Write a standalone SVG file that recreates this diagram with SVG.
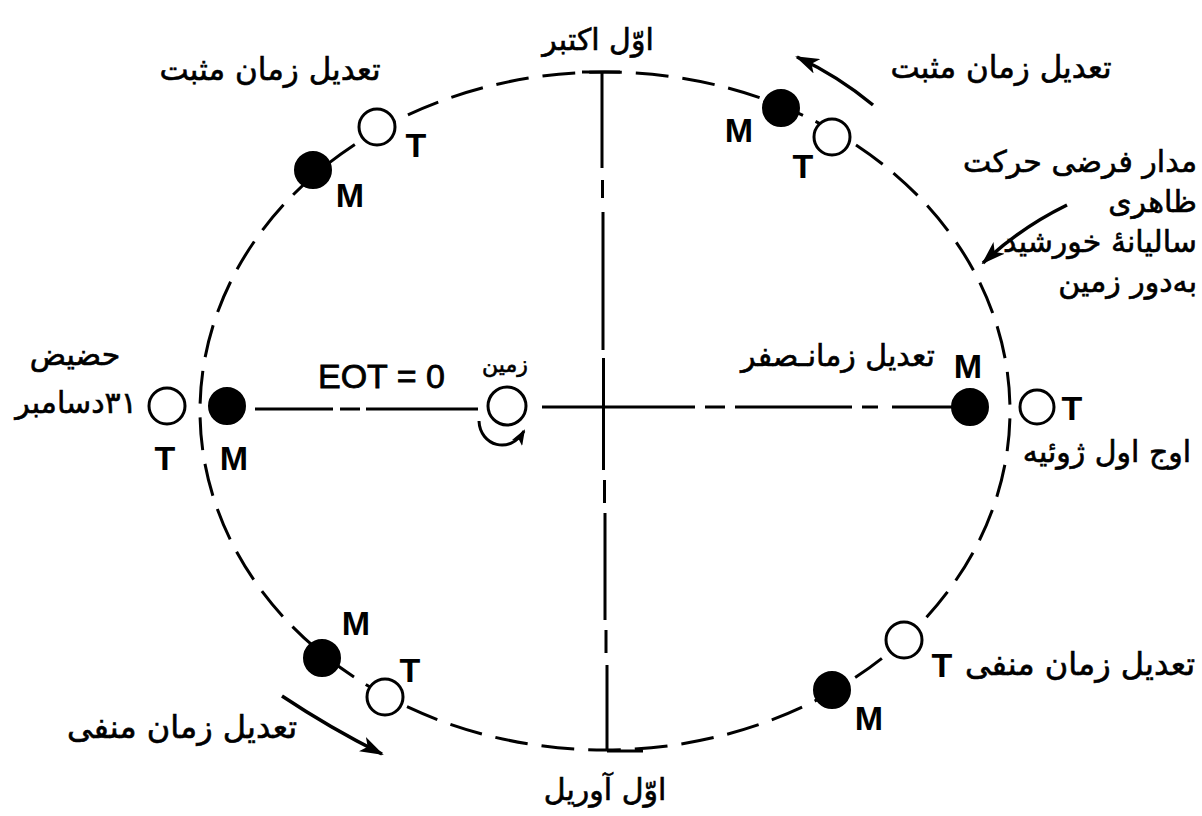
<svg xmlns="http://www.w3.org/2000/svg" width="1202" height="816" viewBox="0 0 1202 816">
<style>
.ar{font-family:"DejaVu Sans","Noto Sans",sans-serif;font-size:30px;fill:#000;stroke:#000;stroke-width:0.6;direction:rtl;text-anchor:middle}
.lat{font-family:"Liberation Sans",Arial,sans-serif;font-size:34px;font-weight:bold;fill:#000;text-anchor:middle}
.ln{stroke:#000;stroke-width:3;fill:none;stroke-linecap:butt}
.arr{stroke:#000;stroke-width:3.5;fill:none}
.open{fill:#fff;stroke:#000;stroke-width:3}
.fill{fill:#000;stroke:#000;stroke-width:2}
</style>
<defs>
<marker id="ah" viewBox="0 0 24 16" refX="22" refY="8" markerWidth="24" markerHeight="16" markerUnits="userSpaceOnUse" orient="auto">
<path d="M0,0 L24,8 L0,16 L6,8 Z" fill="#000"/>
</marker>
<marker id="ahs" viewBox="0 0 16 12" refX="14" refY="6" markerWidth="16" markerHeight="12" markerUnits="userSpaceOnUse" orient="auto">
<path d="M0,0 L16,6 L0,12 L4,6 Z" fill="#000"/>
</marker>
</defs>
<rect width="1202" height="816" fill="#fff"/>

<g id="orbit">
<ellipse cx="605" cy="411" rx="405" ry="339" class="ln" pathLength="2350" stroke-dasharray="33 14" stroke-dashoffset="39.5"/>
</g>

<g id="connectors">
<path class="ln" d="M602,72 V168 M602.5,180 V198 M603,212 V350 M603.5,358 V470 M604.5,480 V503 M605,513 V620 M606,630 V653 M607,665 V751"/>
<path class="ln" d="M582,72 H620 M607,751 H643"/>
<path class="ln" d="M255,409 H333 M340,409 H360 M366,409 H478"/>
<path class="ln" d="M542,407 H695 M705,407 H725 M735,407 H852 M862,407 H878 M892,407 H952"/>
<path class="arr" d="M873,105 Q838,76 797,57" marker-end="url(#ah)"/>
<path class="arr" d="M1067,205 Q1020,228 983,263" marker-end="url(#ah)"/>
<path class="arr" d="M282,696 Q330,728 382,754" marker-end="url(#ah)"/>
<path class="ln" d="M479,421 C480,446 510,455 524,431" marker-end="url(#ahs)"/>
</g>

<g id="earth">
<circle cx="507" cy="406" r="19" class="open"/>
<text x="505" y="372" class="ar" style="font-size:22px">زمین</text>
</g>

<g id="pos-upper-left">
<circle cx="377" cy="127" r="18" class="open"/>
<circle cx="313" cy="170" r="18" class="fill"/>
<text x="416" y="157" class="lat">T</text>
<text x="350" y="207" class="lat">M</text>
<text x="270" y="80" class="ar" style="font-size:31px">تعدیل زمان مثبت</text>
</g>

<g id="pos-upper-right">
<circle cx="781" cy="108" r="18" class="fill"/>
<circle cx="832" cy="137" r="18" class="open"/>
<text x="739" y="142" class="lat">M</text>
<text x="803" y="178" class="lat">T</text>
<text x="1001" y="78" class="ar" style="font-size:31px">تعدیل زمان مثبت</text>
</g>

<g id="pos-right">
<circle cx="970" cy="407" r="18" class="fill"/>
<circle cx="1037" cy="407" r="17" class="open"/>
<text x="968" y="378" class="lat">M</text>
<text x="1072" y="420" class="lat">T</text>
<text x="1107" y="462" class="ar">اوج اول ژوئیه</text>
<text x="838" y="366" class="ar">تعدیل زمانـصفر</text>
</g>

<g id="pos-left">
<circle cx="167" cy="406" r="18" class="open"/>
<circle cx="227" cy="406" r="18" class="fill"/>
<text x="165" y="470" class="lat">T</text>
<text x="234" y="470" class="lat">M</text>
<text x="75" y="365" class="ar">حضیض</text>
<text x="76" y="413" class="ar">۳۱دسامبر</text>
<text x="318" y="388" style="font-family:'Liberation Sans',Arial,sans-serif;font-size:34px;fill:#000;stroke:#000;stroke-width:0.8">EOT = 0</text>
</g>

<g id="pos-lower-left">
<circle cx="322" cy="658" r="18" class="fill"/>
<circle cx="385" cy="697" r="18" class="open"/>
<text x="356" y="635" class="lat">M</text>
<text x="410" y="682" class="lat">T</text>
<text x="182" y="738" class="ar" style="font-size:32px">تعدیل زمان منفی</text>
</g>

<g id="pos-lower-right">
<circle cx="904" cy="640" r="18" class="open"/>
<circle cx="832" cy="690" r="18" class="fill"/>
<text x="942" y="677" class="lat">T</text>
<text x="869" y="730" class="lat">M</text>
<text x="1080" y="675" class="ar" style="font-size:32px">تعدیل زمان منفی</text>
</g>

<g id="labels-axes">
<text x="598" y="50" class="ar">اوّل اکتبر</text>
<text x="605" y="800" class="ar">اوّل آوریل</text>
</g>

<g id="orbit-label">
<text x="1197" y="172" class="ar" style="text-anchor:start">مدار فرضی حرکت</text>
<text x="1197" y="212" class="ar" style="text-anchor:start">ظاهری</text>
<text x="1197" y="252" class="ar" style="text-anchor:start">سالیانهٔ خورشید</text>
<text x="1197" y="292" class="ar" style="text-anchor:start">به‌دور زمین</text>
</g>
</svg>
